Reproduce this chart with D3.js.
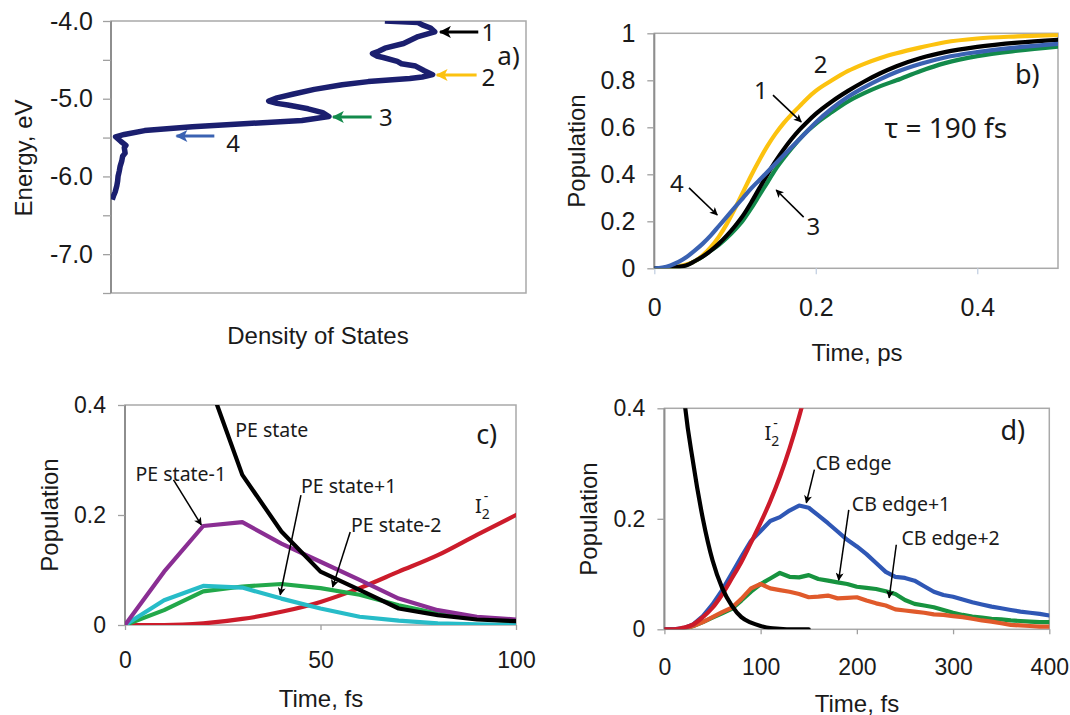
<!DOCTYPE html>
<html>
<head>
<meta charset="utf-8">
<script src="https://cdn.jsdelivr.net/npm/d3@7"></script>
<style>
body { margin: 0; background: #fff; }
svg text { fill: #1a1a1a; }
.tick text { font-family: "Liberation Sans", Arial, sans-serif; }
.title { font-family: "Liberation Sans", Arial, sans-serif; font-size: 24px; }
.ann { font-family: "Noto Sans", sans-serif; }
</style>
</head>
<body>
<svg id="fig" width="1070" height="715"></svg>
<script>
// ---- panel a: density of states ----
var dosEnergy = [-4.0, -4.02, -4.05, -4.09, -4.14, -4.2, -4.25, -4.29, -4.35, -4.39, -4.42, -4.45, -4.47, -4.52, -4.55, -4.58, -4.64, -4.69, -4.72, -4.74, -4.78, -4.82, -4.88, -4.94, -4.99, -5.03, -5.06, -5.08, -5.13, -5.18, -5.23, -5.28, -5.32, -5.36, -5.41, -5.46, -5.49, -5.55, -5.6, -5.63, -5.7, -5.74, -5.8, -5.87, -5.93, -6.0, -6.06, -6.12, -6.2, -6.25, -6.3];
var dosValue  = [0.66, 0.74, 0.75, 0.77, 0.78, 0.74, 0.72, 0.705, 0.66, 0.645, 0.63, 0.64, 0.656, 0.69, 0.70, 0.734, 0.755, 0.775, 0.75, 0.72, 0.62, 0.557, 0.49, 0.44, 0.40, 0.38, 0.40, 0.426, 0.475, 0.51, 0.525, 0.46, 0.33, 0.196, 0.081, 0.032, 0.011, 0.024, 0.036, 0.032, 0.034, 0.028, 0.026, 0.022, 0.02, 0.017, 0.016, 0.014, 0.01, 0.006, 0.003];
var energyTicks = [-4.0, -4.5, -5.0, -5.5, -6.0, -6.5, -7.0, -7.5];

// ---- panel b: population rise ----
var timeB = [0, 0.01, 0.02, 0.03, 0.04, 0.05, 0.06, 0.07, 0.08, 0.09, 0.10, 0.11, 0.12, 0.13, 0.14, 0.15, 0.16, 0.17, 0.18, 0.19, 0.20, 0.22, 0.24, 0.26, 0.28, 0.30, 0.33, 0.36, 0.40, 0.45, 0.50];
var popB1 = [0, 0, 0.002, 0.006, 0.013, 0.03, 0.05, 0.075, 0.105, 0.14, 0.18, 0.225, 0.28, 0.34, 0.40, 0.455, 0.505, 0.55, 0.59, 0.625, 0.657, 0.71, 0.755, 0.795, 0.83, 0.86, 0.895, 0.92, 0.942, 0.96, 0.972];
var popB2 = [0, 0, 0.003, 0.008, 0.016, 0.03, 0.055, 0.09, 0.135, 0.19, 0.255, 0.325, 0.395, 0.46, 0.52, 0.572, 0.617, 0.655, 0.69, 0.725, 0.755, 0.80, 0.84, 0.87, 0.895, 0.915, 0.94, 0.962, 0.978, 0.987, 0.993];
var popB3 = [0, 0, 0.002, 0.006, 0.014, 0.03, 0.05, 0.075, 0.10, 0.13, 0.165, 0.205, 0.255, 0.31, 0.365, 0.42, 0.467, 0.51, 0.55, 0.585, 0.615, 0.665, 0.71, 0.745, 0.775, 0.80, 0.84, 0.873, 0.903, 0.926, 0.943];
var popB4 = [0, 0.003, 0.012, 0.027, 0.048, 0.075, 0.105, 0.14, 0.18, 0.22, 0.26, 0.30, 0.34, 0.375, 0.41, 0.445, 0.48, 0.515, 0.55, 0.585, 0.62, 0.68, 0.73, 0.77, 0.805, 0.835, 0.87, 0.897, 0.92, 0.94, 0.955];
var popTicks = [0, 0.2, 0.4, 0.6, 0.8, 1];
var psTicks = [0, 0.2, 0.4];

// ---- panel c: first 100 fs ----
var timeC = [0, 10, 20, 30, 40, 50, 60, 70, 80, 90, 100];
var peState      = [1.0, 0.75, 0.47, 0.273, 0.17, 0.097, 0.064, 0.030, 0.018, 0.010, 0.007];
var peStateM1    = [0, 0.097, 0.18, 0.187, 0.148, 0.115, 0.082, 0.048, 0.027, 0.015, 0.010];
var peStateM2    = [0, 0.045, 0.071, 0.068, 0.048, 0.030, 0.015, 0.008, 0.003, 0.001, 0.0];
var peStateP1    = [0, 0.027, 0.061, 0.070, 0.0745, 0.067, 0.055, 0.036, 0.021, 0.012, 0.006];
var i2C          = [0, 0, 0.003, 0.011, 0.024, 0.042, 0.067, 0.097, 0.127, 0.164, 0.20];
var fsTicksC = [0, 50, 100];
var smallPopTicks = [0, 0.2, 0.4];

// ---- panel d: up to 400 fs ----
var timeDShort = [0, 10, 20, 30, 40, 50, 60, 70, 80, 90, 100, 110, 120, 130, 140, 150];
var peStateD = [1.0, 0.70, 0.43, 0.30, 0.20, 0.125, 0.075, 0.043, 0.022, 0.012, 0.006, 0.002, 0.001, 0, 0, 0];
var i2D      = [0, 0, 0.003, 0.009, 0.022, 0.039, 0.063, 0.092, 0.122, 0.157, 0.193, 0.232, 0.276, 0.327, 0.385, 0.45];
var timeD = [0, 10, 20, 30, 40, 50, 60, 70, 80, 90, 100, 110, 120, 130, 140, 150, 160, 170, 180, 190, 200, 210, 220, 230, 240, 250, 260, 270, 280, 290, 300, 310, 320, 330, 340, 350, 360, 370, 380, 390, 400];
var cbEdge   = [0, 0, 0.002, 0.009, 0.024, 0.045, 0.071, 0.101, 0.131, 0.16, 0.178, 0.196, 0.203, 0.215, 0.224, 0.220, 0.206, 0.192, 0.177, 0.162, 0.150, 0.136, 0.120, 0.104, 0.095, 0.093, 0.088, 0.078, 0.068, 0.062, 0.059, 0.054, 0.049, 0.045, 0.041, 0.038, 0.035, 0.032, 0.030, 0.028, 0.025];
var cbEdgeP1 = [0, 0, 0.001, 0.006, 0.013, 0.021, 0.029, 0.037, 0.052, 0.068, 0.082, 0.092, 0.102, 0.095, 0.094, 0.098, 0.091, 0.088, 0.085, 0.082, 0.077, 0.075, 0.073, 0.069, 0.064, 0.053, 0.046, 0.043, 0.040, 0.035, 0.030, 0.026, 0.023, 0.021, 0.019, 0.018, 0.016, 0.015, 0.014, 0.013, 0.013];
var cbEdgeP2 = [0, 0, 0.001, 0.006, 0.013, 0.022, 0.031, 0.039, 0.055, 0.074, 0.082, 0.074, 0.071, 0.068, 0.064, 0.058, 0.059, 0.061, 0.056, 0.057, 0.058, 0.052, 0.047, 0.043, 0.036, 0.034, 0.032, 0.030, 0.027, 0.026, 0.024, 0.022, 0.019, 0.016, 0.014, 0.011, 0.008, 0.007, 0.006, 0.005, 0.005];
var fsTicksD = [0, 100, 200, 300, 400];

var svg = d3.select("#fig");
var defs = svg.append("defs");
var clipCount = 0;

function makeMarker(id, color, len, wid) {
  defs.append("marker")
    .attr("id", id)
    .attr("markerUnits", "userSpaceOnUse")
    .attr("viewBox", "0 0 10 10")
    .attr("refX", 9).attr("refY", 5)
    .attr("markerWidth", len).attr("markerHeight", wid)
    .attr("orient", "auto")
    .append("path").attr("d", "M0,0L10,5L0,10L2.5,5Z").attr("fill", color);
}
makeMarker("headK", "#000", 13, 12);
makeMarker("headY", "#fcc20f", 13, 12);
makeMarker("headG", "#138a4b", 13, 12);
makeMarker("headB", "#3a62b2", 13, 12);
makeMarker("thin", "#000", 9, 8);

function panel(box, xDom, yDom) {
  var x = d3.scaleLinear().domain(xDom).range([box.left, box.right]);
  var y = d3.scaleLinear().domain(yDom).range([box.bottom, box.top]);
  var id = "clip" + (clipCount++);
  defs.append("clipPath").attr("id", id).append("rect")
    .attr("x", box.left).attr("y", box.top)
    .attr("width", box.right - box.left).attr("height", box.bottom - box.top);
  var g = svg.append("g");
  g.append("rect")
    .attr("x", box.left).attr("y", box.top)
    .attr("width", box.right - box.left).attr("height", box.bottom - box.top)
    .attr("fill", "none").attr("stroke", "#a9a9a9").attr("stroke-width", 1.5);
  g.append("line")
    .attr("x1", box.left).attr("x2", box.left).attr("y1", box.top).attr("y2", box.bottom)
    .attr("stroke", "#8e8e8e").attr("stroke-width", 2);
  return { g: g, x: x, y: y, clip: "url(#" + id + ")", box: box };
}

function styleAxis(sel, size) {
  sel.select(".domain").remove();
  sel.selectAll(".tick line").attr("stroke", "#a0a0a0").attr("stroke-width", 1.3);
  sel.selectAll(".tick text").attr("font-size", size).attr("fill", "#1a1a1a");
}

function curve(p, xs, ys, color, width, smooth) {
  p.g.append("path")
    .datum(d3.zip(xs, ys))
    .attr("clip-path", p.clip)
    .attr("fill", "none")
    .attr("stroke", color)
    .attr("stroke-width", width)
    .attr("stroke-linejoin", "round")
    .attr("stroke-linecap", "round")
    .attr("d", d3.line()
      .x(function(d) { return p.x(d[0]); })
      .y(function(d) { return p.y(d[1]); })
      .curve(smooth ? d3.curveMonotoneX : d3.curveLinear));
}

function label(p, tx, ty, txt, size, anchor) {
  return p.g.append("text").attr("class", "ann")
    .attr("x", p.x(tx)).attr("y", p.y(ty))
    .attr("dominant-baseline", "central")
    .attr("text-anchor", anchor || "start")
    .attr("font-size", size)
    .text(txt);
}

function arrow(p, x1, y1, x2, y2, marker, color, width) {
  p.g.append("line")
    .attr("x1", p.x(x1)).attr("y1", p.y(y1))
    .attr("x2", p.x(x2)).attr("y2", p.y(y2))
    .attr("stroke", color).attr("stroke-width", width)
    .attr("marker-end", "url(#" + marker + ")");
}

function title(x, y, txt, rotate) {
  var t = svg.append("text").attr("class", "title")
    .attr("text-anchor", "middle").attr("dominant-baseline", "central")
    .text(txt);
  if (rotate) t.attr("transform", "translate(" + x + "," + y + ") rotate(-90)");
  else t.attr("x", x).attr("y", y);
}

function i2Label(p, tx, ty) {
  var t = p.g.append("text").attr("class", "ann")
    .attr("x", p.x(tx)).attr("y", p.y(ty))
    .attr("dominant-baseline", "central").attr("font-size", 20);
  t.append("tspan").text("I");
  t.append("tspan").attr("dy", 8).attr("font-size", 14).text("2");
  t.append("tspan").attr("dx", -6).attr("dy", -18).attr("font-size", 14).text("-");
}

// ===== panel a =====
var pa = panel({ left: 111, top: 21, right: 526, bottom: 293 }, [0, 1], [-7.5, -4]);
pa.g.append("g").attr("transform", "translate(" + pa.box.left + ",0)")
  .call(d3.axisLeft(pa.y).tickValues(energyTicks).tickSize(8).tickPadding(10)
    .tickFormat(function(d) { return Number.isInteger(d) ? d.toFixed(1) : ""; }))
  .call(styleAxis, 25);
pa.g.append("path")
  .datum(d3.zip(dosValue, dosEnergy))
  .attr("clip-path", pa.clip)
  .attr("fill", "none").attr("stroke", "#1b1f6f").attr("stroke-width", 5.5)
  .attr("stroke-linejoin", "round")
  .attr("d", d3.line().x(function(d) { return pa.x(d[0]); }).y(function(d) { return pa.y(d[1]); }));
arrow(pa, 0.885, -4.14, 0.793, -4.14, "headK", "#000", 3);
arrow(pa, 0.881, -4.695, 0.785, -4.695, "headY", "#fcc20f", 3);
arrow(pa, 0.628, -5.235, 0.535, -5.235, "headG", "#138a4b", 3);
arrow(pa, 0.249, -5.48, 0.158, -5.48, "headB", "#3a62b2", 3);
label(pa, 0.893, -4.14, "1", 24);
label(pa, 0.893, -4.72, "2", 24);
label(pa, 0.646, -5.235, "3", 24);
label(pa, 0.278, -5.56, "4", 24);
label(pa, 0.958, -4.44, "a)", 26, "middle");
title(23, 158, "Energy, eV", true);
title(318, 335, "Density of States");

// ===== panel b =====
var pb = panel({ left: 654.3, top: 33.3, right: 1058, bottom: 268.3 }, [0, 0.5], [0, 1]);
pb.g.append("g").attr("transform", "translate(" + pb.box.left + ",0)")
  .call(d3.axisLeft(pb.y).tickValues(popTicks).tickSize(7).tickPadding(12).tickFormat(d3.format("~g")))
  .call(styleAxis, 25);
pb.g.append("g").attr("transform", "translate(0," + pb.box.bottom + ")")
  .call(d3.axisBottom(pb.x).tickValues(psTicks).tickSize(6).tickPadding(24).tickFormat(d3.format("~g")))
  .call(styleAxis, 25);
pb.g.selectAll(".tick line").filter(function() { return +d3.select(this).attr("y2") > 0; }).attr("stroke", "#c4d0e2");
curve(pb, timeB, popB3, "#138a4b", 4.2, true);
curve(pb, timeB, popB2, "#fcc20f", 4.2, true);
curve(pb, timeB, popB1, "#000", 4.2, true);
curve(pb, timeB, popB4, "#3a62b2", 4.2, true);
label(pb, 0.132, 0.759, "1", 24, "middle");
arrow(pb, 0.147, 0.737, 0.182, 0.623, "thin", "#000", 1.6);
label(pb, 0.206, 0.873, "2", 24, "middle");
label(pb, 0.197, 0.184, "3", 24, "middle");
arrow(pb, 0.185, 0.218, 0.151, 0.333, "thin", "#000", 1.6);
label(pb, 0.028, 0.367, "4", 24, "middle");
arrow(pb, 0.043, 0.342, 0.078, 0.227, "thin", "#000", 1.6);
label(pb, 0.285, 0.601, "\u03c4 = 190 fs", 28);
label(pb, 0.462, 0.831, "b)", 27, "middle");
title(576, 151, "Population", true);
title(857, 352, "Time, ps");

// ===== panel c =====
var pc = panel({ left: 125, top: 405, right: 516, bottom: 625 }, [0, 100], [0, 0.4]);
pc.g.append("g").attr("transform", "translate(" + pc.box.left + ",0)")
  .call(d3.axisLeft(pc.y).tickValues(smallPopTicks).tickSize(7).tickPadding(12).tickFormat(d3.format("~g")))
  .call(styleAxis, 23);
pc.g.append("g").attr("transform", "translate(0," + pc.box.bottom + ")")
  .call(d3.axisBottom(pc.x).tickValues(fsTicksC).tickSize(5).tickPadding(22).tickFormat(d3.format("~g")))
  .call(styleAxis, 23);
curve(pc, timeC, i2C, "#cc1c2b", 4.2, true);
curve(pc, timeC, peStateP1, "#22a84a", 4.2, false);
curve(pc, timeC, peStateM2, "#27bcc8", 4.2, false);
curve(pc, timeC, peStateM1, "#8a2e93", 4.2, false);
curve(pc, timeC, peState, "#000", 4.2, false);
label(pc, 28.2, 0.355, "PE state", 19.5);
label(pc, 2.7, 0.276, "PE state-1", 19.5);
arrow(pc, 12.4, 0.264, 19.5, 0.182, "thin", "#000", 1.5);
label(pc, 45.0, 0.253, "PE state+1", 19.5);
arrow(pc, 45.0, 0.236, 39.7, 0.055, "thin", "#000", 1.5);
label(pc, 57.8, 0.182, "PE state-2", 19.5);
arrow(pc, 57.6, 0.169, 53.1, 0.069, "thin", "#000", 1.5);
i2Label(pc, 89.5, 0.218);
label(pc, 92.5, 0.349, "c)", 27, "middle");
title(49, 515, "Population", true);
title(321, 698, "Time, fs");

// ===== panel d =====
var pd = panel({ left: 664.4, top: 408.3, right: 1049.3, bottom: 629.3 }, [0, 400], [0, 0.4]);
pd.g.append("g").attr("transform", "translate(" + pd.box.left + ",0)")
  .call(d3.axisLeft(pd.y).tickValues(smallPopTicks).tickSize(7).tickPadding(12).tickFormat(d3.format("~g")))
  .call(styleAxis, 23);
pd.g.append("g").attr("transform", "translate(0," + pd.box.bottom + ")")
  .call(d3.axisBottom(pd.x).tickValues(fsTicksD).tickSize(5).tickPadding(24).tickFormat(d3.format("~g")))
  .call(styleAxis, 23);
curve(pd, timeD, cbEdgeP1, "#17933f", 4.2, false);
curve(pd, timeD, cbEdgeP2, "#e05a2b", 4.2, false);
curve(pd, timeD, cbEdge, "#2f57b5", 4.2, false);
curve(pd, timeDShort, i2D, "#cc1a2a", 4.2, true);
curve(pd, timeDShort, peStateD, "#000", 4.2, true);
i2Label(pd, 104, 0.357);
label(pd, 156.9, 0.301, "CB edge", 19.5);
arrow(pd, 155.9, 0.289, 147.5, 0.229, "thin", "#000", 1.5);
label(pd, 194.8, 0.227, "CB edge+1", 19.5);
arrow(pd, 191.6, 0.216, 181.1, 0.089, "thin", "#000", 1.5);
label(pd, 246.3, 0.167, "CB edge+2", 19.5);
arrow(pd, 241.0, 0.153, 233.6, 0.057, "thin", "#000", 1.5);
label(pd, 362, 0.361, "d)", 27, "middle");
title(588, 519, "Population", true);
title(857, 703, "Time, fs");
</script>
</body>
</html>
